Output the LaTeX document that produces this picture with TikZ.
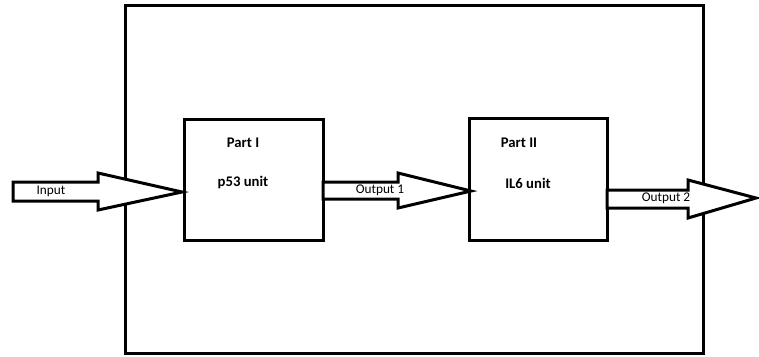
\documentclass[tikz,border=0pt]{standalone}
\usepackage{fontspec}
\setmainfont{Carlito}
\begin{document}
\begin{tikzpicture}[x=1bp,y=-1bp,line join=miter,
  box/.style={draw,line width=3bp,inner sep=0pt,outer sep=0pt,anchor=north west},
  fat/.style={draw,line width=3bp,fill=white,line join=miter,miter limit=10},
  lbl/.style={font=\fontsize{13.3bp}{15bp}\selectfont,inner sep=0pt},
  hd/.style={font=\bfseries\fontsize{14.7bp}{17bp}\selectfont,inner sep=0pt}]
\useasboundingbox (0,0) rectangle (759,356);
\node[box,minimum width=578bp,minimum height=348bp] (outer) at (125,5) {};
\node[box,minimum width=139bp,minimum height=121bp] (p1) at (184,119) {};
\node[box,minimum width=138bp,minimum height=122bp] (p2) at (469,118) {};
% arrows
\coordinate (in0) at (13,191.5);
\coordinate (t1) at (182,192);
\coordinate (t2) at (471,191);
\coordinate (t3) at (756,198);
\draw[fat] (in0) ++(0,-9.5) -- (98,182) -- (98,173) -- (t1) -- (98,210) -- (98,201) -- (13,201) -- cycle;
\draw[fat] (p1.east |- 0,182) -- (398,182) -- (398,173) -- (t2) -- (398,208) -- (398,199) -- (p1.east |- 0,199) -- cycle;
\draw[fat] (p2.east |- 0,190) -- (688,190) -- (688,180) -- (t3) -- (688,218) -- (688,208) -- (p2.east |- 0,208) -- cycle;
% labels
\node[lbl] (lin) at (51,191) {Input};
\node[lbl] (lo1) at (380,190) {Output 1};
\node[lbl] (lo2) at (666,198) {Output 2};
\node[hd] (h1) at (243,143) {Part I};
\node[hd] (u1) at (243,182) {p53 unit};
\node[hd] (h2) at (519,143) {Part II};
\node[hd] (u2) at (528,183) {IL6 unit};
\end{tikzpicture}
\end{document}
